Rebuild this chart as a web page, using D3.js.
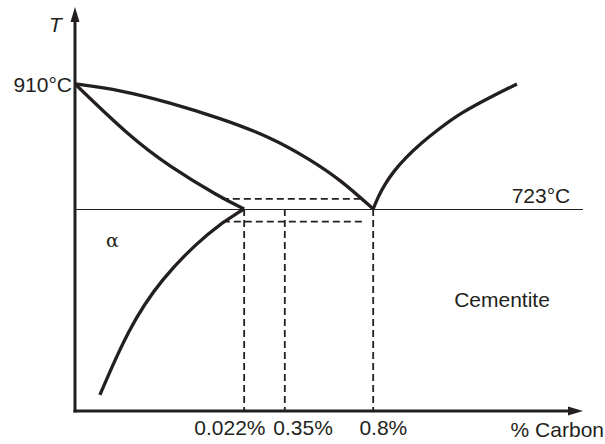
<!DOCTYPE html>
<html>
<head>
<meta charset="utf-8">
<script src="https://cdn.jsdelivr.net/npm/d3@7"></script>
<style>
  html, body { margin: 0; padding: 0; background: #fff; }
  svg { display: block; font-family: "Liberation Sans", Arial, sans-serif; }
  text { fill: #231f20; }
</style>
</head>
<body>
<svg id="chart" width="605" height="444"></svg>
<script>
// schematic composition axis (0..100) and temperature axis (°C)
const upperA3 = [[0, 910], [8.9, 901], [18.7, 882], [28.5, 859], [38.4, 831], [46.3, 797], [52.2, 767], [58.7, 723]];
const lowerA3 = [[0, 910], [10.8, 831], [18.7, 786], [28.5, 741], [33.3, 723]];
const acmLine = [[58.7, 723], [59.65, 741], [61.0, 760], [62.6, 778], [65.0, 799], [67.9, 820], [71.85, 844], [75.8, 866], [81.7, 890], [87.0, 910]];
const solvus = [[4.9, 445], [10.4, 542], [16.7, 617], [26.6, 692], [33.3, 723]];

const tickPos = [33.3, 41.3, 58.7];
const tickLabels = ["0.022%", "0.35%", "0.8%"];
const tickLabelPos = [30.5, 44.9, 60.7];

const tempValues = [910, 723];
const tempLabels = ["910°C", "723°C"];

const dashHigh = [[28.9, 738], [56.1, 738]];
const dashLow = [[29.1, 704], [56.7, 704]];

const svg = d3.select("#chart");
const ink = "#231f20";

const x = d3.scaleLinear().domain([0, 100]).range([75, 583]);
const y = d3.scaleLinear().domain([421, 1025]).range([411, 7]);

const line = d3.line()
  .x((d) => x(d[0]))
  .y((d) => y(d[1]))
  .curve(d3.curveBasis);

const straight = d3.line()
  .x((d) => x(d[0]))
  .y((d) => y(d[1]));

// eutectoid isotherm
svg.append("line")
  .attr("x1", x(0)).attr("x2", x(100))
  .attr("y1", y(723) + 0.5).attr("y2", y(723) + 0.5)
  .attr("stroke", ink)
  .attr("stroke-width", 1)
  .attr("shape-rendering", "crispEdges");

// dashed guides
const dashLayer = svg.append("g")
  .attr("stroke", ink)
  .attr("stroke-width", 1.8)
  .attr("stroke-dasharray", "7,4")
  .attr("fill", "none");

dashLayer.selectAll("line.v")
  .data(tickPos)
  .join("line")
  .attr("class", "v")
  .attr("x1", (d) => x(d)).attr("x2", (d) => x(d))
  .attr("y1", y(723)).attr("y2", y(421) - 1);

dashLayer.selectAll("path")
  .data([dashHigh, dashLow])
  .join("path")
  .attr("d", straight);

// phase boundaries
svg.append("g")
  .attr("fill", "none")
  .attr("stroke", ink)
  .attr("stroke-width", 3.3)
  .attr("stroke-linecap", "butt")
  .selectAll("path")
  .data([upperA3, lowerA3, acmLine, solvus])
  .join("path")
  .attr("d", line);

// axes
const axes = svg.append("g").attr("stroke", ink).attr("fill", ink);
axes.append("line")
  .attr("x1", x(0)).attr("x2", x(0))
  .attr("y1", y(421) + 1.5).attr("y2", y(1025) + 12)
  .attr("stroke-width", 3);
axes.append("line")
  .attr("x1", x(0) - 1.5).attr("x2", x(100) - 12)
  .attr("y1", y(421)).attr("y2", y(421))
  .attr("stroke-width", 3);
axes.append("path")
  .attr("stroke", "none")
  .attr("d", `M ${x(0)} ${y(1025)} L ${x(0) - 4.5} ${y(1025) + 15} L ${x(0) + 4.5} ${y(1025) + 15} Z`);
axes.append("path")
  .attr("stroke", "none")
  .attr("d", `M ${x(100)} ${y(421)} L ${x(100) - 15} ${y(421) - 4.5} L ${x(100) - 15} ${y(421) + 4.5} Z`);

// labels
const labels = svg.append("g").attr("font-size", 21);

labels.selectAll("text.tick")
  .data(tickLabels)
  .join("text")
  .attr("class", "tick")
  .attr("x", (d, i) => x(tickLabelPos[i]))
  .attr("y", y(421) + 24)
  .attr("text-anchor", "middle")
  .text((d) => d);

labels.append("text")
  .attr("x", x(0) - 3)
  .attr("y", y(tempValues[0]) + 8)
  .attr("text-anchor", "end")
  .text(tempLabels[0]);

labels.append("text")
  .attr("x", 541)
  .attr("y", y(tempValues[1]) - 6)
  .attr("text-anchor", "middle")
  .text(tempLabels[1]);

labels.append("text")
  .attr("x", 49)
  .attr("y", 32)
  .attr("font-style", "italic")
  .text("T");

labels.append("text")
  .attr("x", 604)
  .attr("y", 437)
  .attr("text-anchor", "end")
  .text("% Carbon");

labels.append("text")
  .attr("x", 106)
  .attr("y", 247)
  .attr("font-size", 19)
  .attr("font-family", "'DejaVu Serif', 'Liberation Serif', serif")
  .text("α");

labels.append("text")
  .attr("x", 502)
  .attr("y", 307)
  .attr("text-anchor", "middle")
  .text("Cementite");
</script>
</body>
</html>
